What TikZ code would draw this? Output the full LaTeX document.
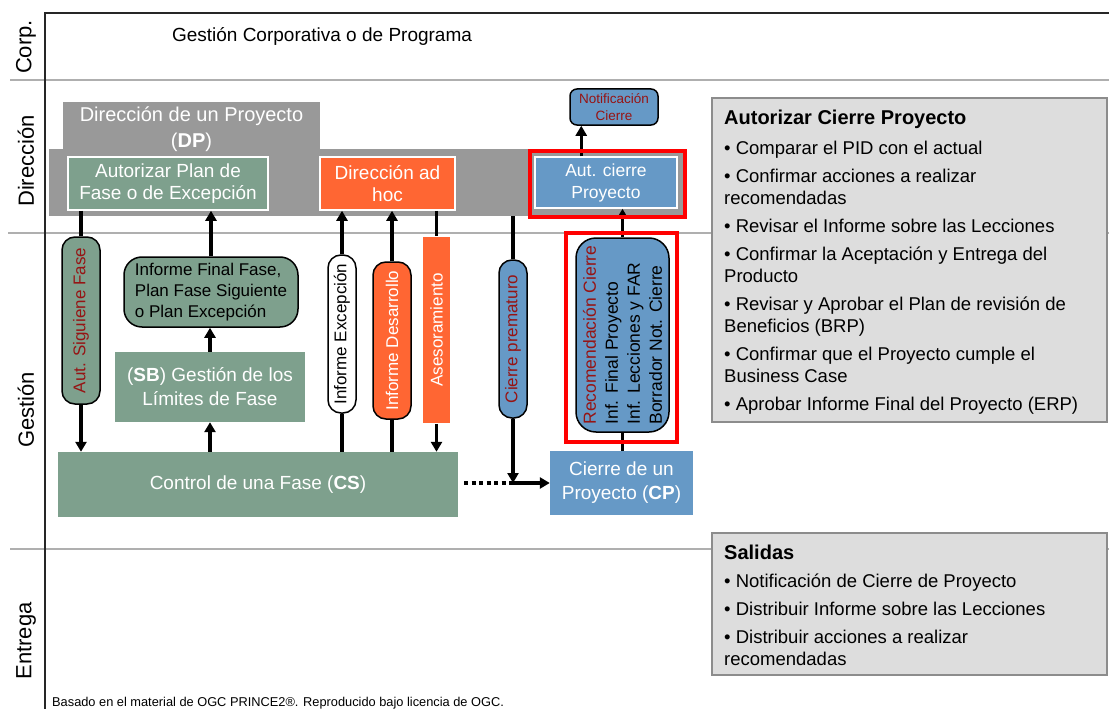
\documentclass[tikz,border=0pt]{standalone}
\usepackage{fontspec}
\setmainfont{Liberation Sans}
\usetikzlibrary{arrows.meta,calc}

\definecolor{fasegreen}{RGB}{126,160,141}
\definecolor{hocorange}{RGB}{255,102,51}
\definecolor{cierreblue}{RGB}{102,153,198}
\definecolor{dpgray}{RGB}{153,153,153}
\definecolor{darkred}{RGB}{150,20,20}
\definecolor{lanegray}{RGB}{175,175,175}
\definecolor{notegray}{RGB}{221,221,221}
\definecolor{notedge}{RGB}{140,140,140}

\begin{document}
\begin{tikzpicture}[x=1pt,y=-1pt,>={Triangle[length=10pt,width=11pt]},
        conn/.style={line width=3.2pt},
        lanename/.style={rotate=90,font=\fontsize{22}{26}\selectfont,text=black},
        procbox/.style={rectangle,inner sep=0pt,align=center,text=white,font=\fontsize{19}{22}\selectfont},
        flowpill/.style={rectangle,draw=black,line width=1.5pt,rounded corners=13pt,rotate=90,inner sep=0pt,align=left,font=\fontsize{17}{21}\selectfont},
        notebox/.style={rectangle,fill=notegray,draw=notedge,line width=1.6pt,anchor=north west},
        notetext/.style={anchor=north west,align=left,inner sep=0pt,font=\fontsize{18.5}{22}\selectfont}]

    \useasboundingbox (0,0) rectangle (1109,709);

    % lanes
    \draw[lanegray, line width=1.8pt] (10,80) -- (1109,80);
    \draw[lanegray, line width=1.8pt] (8,233) -- (1109,233);
    \draw[lanegray, line width=1.8pt] (10,549) -- (1109,549);
    \draw[black!85, line width=2pt] (45,709) -- (45,13) -- (1109,13);

    \node[lanename] (corp) at (26,47) {Corp.};
    \node[lanename] (direccion) at (26,161) {Dirección};
    \node[lanename] (gestion) at (26,410) {Gestión};
    \node[lanename] (entrega) at (26,641) {Entrega};

    \node[font=\fontsize{19}{22}\selectfont] (corptxt) at (322,36) {Gestión Corporativa o de Programa};

    % direccion
    \node[rectangle,fill=dpgray,minimum width=634,minimum height=67] (dpband) at (366,182.5) {};
    \node[procbox,fill=dpgray,minimum width=257,minimum height=54,font=\fontsize{20}{26}\selectfont] (dptab) at (191.5,129) {Dirección de un Proyecto\\(\textbf{DP})};

    \node[procbox,fill=fasegreen,draw=white,line width=1.5pt,minimum width=200,minimum height=53] (autplan) at (168,183.5) {Autorizar Plan de\\Fase o de Excepción};
    \node[procbox,fill=hocorange,draw=white,line width=1.5pt,minimum width=135,minimum height=53] (adhoc) at (387.5,183.5) {Dirección ad\\hoc};
    \node[procbox,fill=cierreblue,draw=white,line width=1.5pt,minimum width=142,minimum height=51,font=\fontsize{17.5}{22}\selectfont] (autcierre) at (606,182.5) {Aut. cierre\\Proyecto};
    \node[procbox,fill=cierreblue,draw=black,line width=1.5pt,rounded corners=7pt,minimum width=88,minimum height=36,text=darkred,font=\fontsize{13.5}{17}\selectfont] (notif) at (614,107) {Notificación\\Cierre};
    \coordinate (notifin) at ($(notif.south west)+(12,0)$);

    % gestion
    \node[flowpill,fill=fasegreen,minimum width=167,minimum height=38,text=darkred] (sigfase) at (81,320.5) {Aut. Siguiene Fase};
    \node[procbox,fill=fasegreen,draw=black,line width=1.5pt,rounded corners=18pt,minimum width=174,minimum height=70,text=black,align=left,font=\fontsize{17}{21}\selectfont] (infinal) at (211,292) {Informe Final Fase,\\Plan Fase Siguiente\\o Plan Excepción};
    \node[procbox,fill=fasegreen,minimum width=190,minimum height=70,font=\fontsize{19}{24}\selectfont] (sb) at (210,387) {(\textbf{SB}) Gestión de los\\Límites de Fase};
    \node[flowpill,fill=white,minimum width=158,minimum height=28] (infexc) at (342,334) {Informe Excepción};
    \node[flowpill,fill=hocorange,minimum width=157,minimum height=38,text=white] (infdes) at (392,340.5) {Informe Desarrollo};
    \node[flowpill,draw=none,rounded corners=0pt,fill=hocorange,minimum width=186,minimum height=27,text=white] (asesor) at (436.5,330) {Asesoramiento};
    \node[flowpill,fill=cierreblue,minimum width=158,minimum height=28,text=darkred] (cierrepre) at (513,339) {Cierre prematuro};
    \node[flowpill,fill=cierreblue,rounded corners=20pt,minimum width=194,minimum height=93,font=\fontsize{17.5}{22}\selectfont] (recom) at (622.5,335) {\textcolor{darkred}{Recomendación Cierre}\\Inf. Final Proyecto\\Inf. Lecciones y FAR\\Borrador Not. Cierre};

    \node[procbox,fill=fasegreen,minimum width=400,minimum height=65] (cs) at (258,484.5) {Control de una Fase (\textbf{CS})};
    \node[procbox,fill=cierreblue,minimum width=143,minimum height=64,font=\fontsize{19}{24}\selectfont] (cp) at (621.5,483) {Cierre de un\\Proyecto (\textbf{CP})};

    % flows
    \draw[conn] (autplan.south -| sigfase.east) -- (sigfase.east);
    \draw[conn,->] (sigfase.west) -- (sigfase.west |- cs.north);
    \draw[conn,->] (infinal.north) -- (infinal.north |- autplan.south);
    \draw[conn,->] (sb.north) -- (sb.north |- infinal.south);
    \draw[conn,->] (cs.north -| sb.south) -- (sb.south);
    \draw[conn,->] (infexc.east) -- (infexc.east |- adhoc.south);
    \draw[conn] (infexc.west) -- (infexc.west |- cs.north);
    \draw[conn,->] (infdes.east) -- (infdes.east |- adhoc.south);
    \draw[conn] (infdes.west) -- (infdes.west |- cs.north);
    \draw[conn] (adhoc.south -| asesor.east) -- (asesor.east);
    \draw[conn,->] (asesor.west) -- (asesor.west |- cs.north);
    \draw[conn] (dpband.south -| cierrepre.east) -- (cierrepre.east);
    \draw[conn,->] (cierrepre.west) -- (cierrepre.west |- cp.west);
    \draw[conn,->] (cierrepre.west |- cp.west) -- (cp.west);
    \draw[conn,dash pattern=on 4pt off 3.5pt,shorten <=6pt] (cs.east |- cp.west) -- (cierrepre.west |- cp.west);
    \draw[conn,->] (recom.east) -- (recom.east |- autcierre.south);
    \draw[conn] (recom.west) -- (recom.west |- cp.north);
    \draw[conn,->] (notifin |- autcierre.north) -- (notifin);

    \draw[red, line width=3.5pt] (530,151) rectangle (685,217);
    \draw[red, line width=3.5pt] (566,233) rectangle (677,442);

    % notas
    \node[notebox,minimum width=395,minimum height=324] (autnote) at (711,97) {};
    \node[notetext] (autlist) at (724,110) {{\fontsize{20}{24}\selectfont\bfseries Autorizar Cierre Proyecto}\\[8pt]
        • Comparar el PID con el actual\\[6pt]
        • Confirmar acciones a realizar\\ recomendadas\\[6pt]
        • Revisar el Informe sobre las Lecciones\\[6pt]
        • Confirmar la Aceptación y Entrega del\\ Producto\\[6pt]
        • Revisar y Aprobar el Plan de revisión de\\ Beneficios (BRP)\\[6pt]
        • Confirmar que el Proyecto cumple el\\ Business Case\\[6pt]
        • Aprobar Informe Final del Proyecto (ERP)};

    \node[notebox,minimum width=395,minimum height=142] (salnote) at (711,532) {};
    \node[notetext] (sallist) at (724,545) {{\fontsize{20}{24}\selectfont\bfseries Salidas}\\[6pt]
        • Notificación de Cierre de Proyecto\\[6pt]
        • Distribuir Informe sobre las Lecciones\\[6pt]
        • Distribuir acciones a realizar\\ recomendadas};

    \node[anchor=base west,inner sep=0pt,font=\fontsize{12.8}{15}\selectfont] (credit) at (52,706) {Basado en el material de OGC PRINCE2®. Reproducido bajo licencia de OGC.};
\end{tikzpicture}
\end{document}
